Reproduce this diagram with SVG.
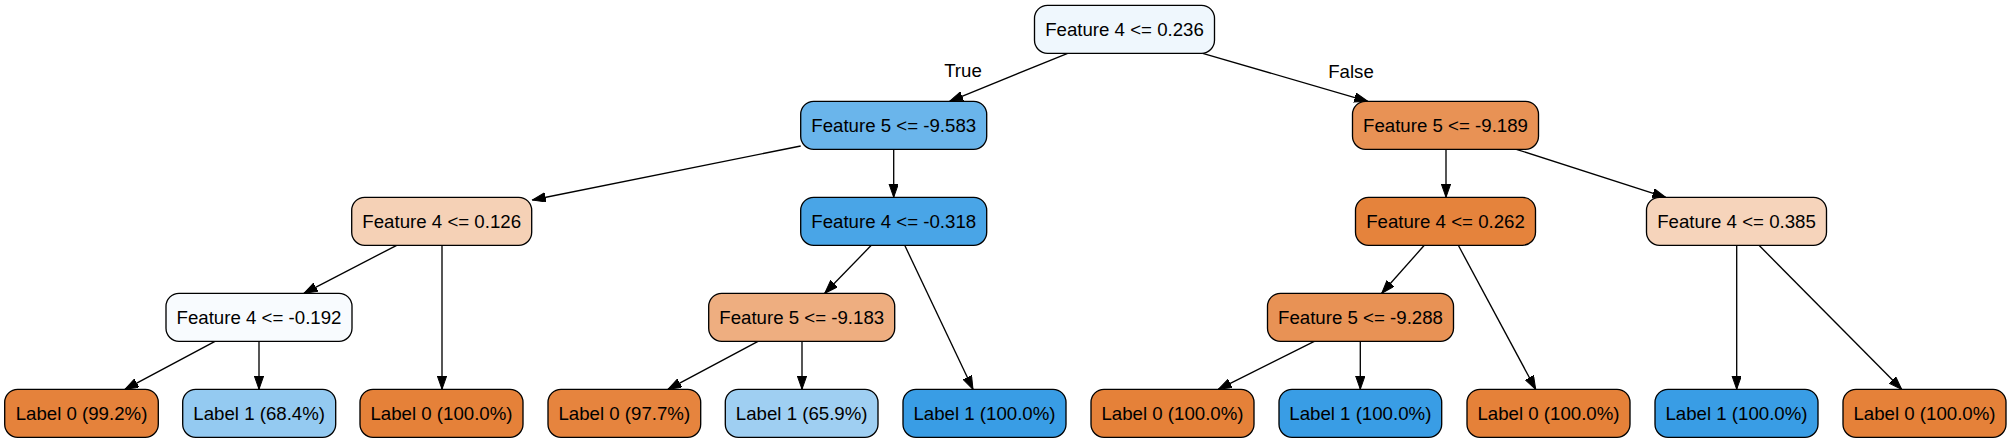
<svg xmlns="http://www.w3.org/2000/svg" width="2012" height="443" viewBox="0 0 2012 443">
<style>
.n rect{stroke:#000;stroke-width:1.33;}
.n text{font-family:"Liberation Sans",Arial,Helvetica,sans-serif;font-size:18.67px;fill:#000;text-anchor:middle;}
.e path{fill:none;stroke:#000;stroke-width:1.33;marker-end:url(#arr);}
.e text{font-family:"Liberation Sans",Arial,Helvetica,sans-serif;font-size:18.67px;fill:#000;text-anchor:middle;}
</style>
<defs>
<marker id="arr" markerWidth="14" markerHeight="10" refX="13.33" refY="4.67" orient="auto" markerUnits="userSpaceOnUse">
<path d="M0,0 L13.33,4.67 L0,9.33 z" fill="#000" stroke="#000" stroke-width="1"/>
</marker>
</defs>
<rect width="2012" height="443" fill="#fff"/>
<g id="edges" class="e">
<path d="M1067.7,53.3 L949.7,101.3"/>
<path d="M1202.7,53.3 L1367.7,101.3"/>
<path d="M800.7,146 L532.3,200"/>
<path d="M893.7,149.3 L893.7,197.3"/>
<path d="M396.7,245.3 L304,293.3"/>
<path d="M442,245.3 L442,389.3"/>
<path d="M215,341.3 L125,389.3"/>
<path d="M259,341.3 L259,389.3"/>
<path d="M871.3,245.3 L824.7,293.3"/>
<path d="M904.7,245.3 L973,389.3"/>
<path d="M758,341.3 L668,389.3"/>
<path d="M802,341.3 L802,389.3"/>
<path d="M1446,149.3 L1446,197.3"/>
<path d="M1516.3,149.3 L1665.7,197.3"/>
<path d="M1424.3,245.3 L1381.7,293.3"/>
<path d="M1458.3,245.3 L1535.7,389.3"/>
<path d="M1314.3,341.3 L1218.3,389.3"/>
<path d="M1360.3,341.3 L1360.3,389.3"/>
<path d="M1736.7,245.3 L1736.7,389.3"/>
<path d="M1759,245.3 L1901.7,389.3"/>
<text x="963" y="77">True</text>
<text x="1351" y="77.5">False</text>
</g>
<g id="n0" class="n"><rect x="1034.5" y="5.3" width="180" height="48" rx="13" fill="#eff7fd"/><text x="1124.5" y="35.8">Feature 4 &lt;= 0.236</text></g>
<g id="n1" class="n"><rect x="800.7" y="101.3" width="186" height="48" rx="13" fill="#6ab5eb"/><text x="893.7" y="131.8">Feature 5 &lt;= -9.583</text></g>
<g id="n10" class="n"><rect x="1352.5" y="101.3" width="186" height="48" rx="13" fill="#e89255"/><text x="1445.5" y="131.8">Feature 5 &lt;= -9.189</text></g>
<g id="n2" class="n"><rect x="351.7" y="197.3" width="180" height="48" rx="13" fill="#f5d1b6"/><text x="441.7" y="227.8">Feature 4 &lt;= 0.126</text></g>
<g id="n5" class="n"><rect x="800.7" y="197.3" width="186" height="48" rx="13" fill="#49a5e7"/><text x="893.7" y="227.8">Feature 4 &lt;= -0.318</text></g>
<g id="n11" class="n"><rect x="1355.5" y="197.3" width="180" height="48" rx="13" fill="#e5833c"/><text x="1445.5" y="227.8">Feature 4 &lt;= 0.262</text></g>
<g id="n14" class="n"><rect x="1646.5" y="197.3" width="180" height="48" rx="13" fill="#f6d4bb"/><text x="1736.5" y="227.8">Feature 4 &lt;= 0.385</text></g>
<g id="n3" class="n"><rect x="166" y="293.3" width="186" height="48" rx="13" fill="#f8fbfe"/><text x="259" y="323.8">Feature 4 &lt;= -0.192</text></g>
<g id="n6" class="n"><rect x="708.7" y="293.3" width="186" height="48" rx="13" fill="#eeae80"/><text x="801.7" y="323.8">Feature 5 &lt;= -9.183</text></g>
<g id="n12" class="n"><rect x="1267.5" y="293.3" width="186" height="48" rx="13" fill="#e89255"/><text x="1360.5" y="323.8">Feature 5 &lt;= -9.288</text></g>
<g id="l1" class="n"><rect x="4.7" y="389.3" width="153.6" height="48" rx="13" fill="#e5823b"/><text x="81.5" y="419.8">Label 0 (99.2%)</text></g>
<g id="l2" class="n"><rect x="182.7" y="389.3" width="153" height="48" rx="13" fill="#94caf1"/><text x="259.2" y="419.8">Label 1 (68.4%)</text></g>
<g id="l3" class="n"><rect x="360" y="389.3" width="163" height="48" rx="13" fill="#e58139"/><text x="441.5" y="419.8">Label 0 (100.0%)</text></g>
<g id="l4" class="n"><rect x="548" y="389.3" width="152.7" height="48" rx="13" fill="#e6843e"/><text x="624.3" y="419.8">Label 0 (97.7%)</text></g>
<g id="l5" class="n"><rect x="725.3" y="389.3" width="152.7" height="48" rx="13" fill="#9fcff2"/><text x="801.7" y="419.8">Label 1 (65.9%)</text></g>
<g id="l6" class="n"><rect x="903" y="389.3" width="163" height="48" rx="13" fill="#399de5"/><text x="984.5" y="419.8">Label 1 (100.0%)</text></g>
<g id="l7" class="n"><rect x="1091" y="389.3" width="163" height="48" rx="13" fill="#e58139"/><text x="1172.5" y="419.8">Label 0 (100.0%)</text></g>
<g id="l8" class="n"><rect x="1279" y="389.3" width="162.7" height="48" rx="13" fill="#399de5"/><text x="1360.3" y="419.8">Label 1 (100.0%)</text></g>
<g id="l9" class="n"><rect x="1467" y="389.3" width="163" height="48" rx="13" fill="#e58139"/><text x="1548.5" y="419.8">Label 0 (100.0%)</text></g>
<g id="l10" class="n"><rect x="1655" y="389.3" width="163" height="48" rx="13" fill="#399de5"/><text x="1736.5" y="419.8">Label 1 (100.0%)</text></g>
<g id="l11" class="n"><rect x="1843" y="389.3" width="163" height="48" rx="13" fill="#e58139"/><text x="1924.5" y="419.8">Label 0 (100.0%)</text></g>
</svg>
